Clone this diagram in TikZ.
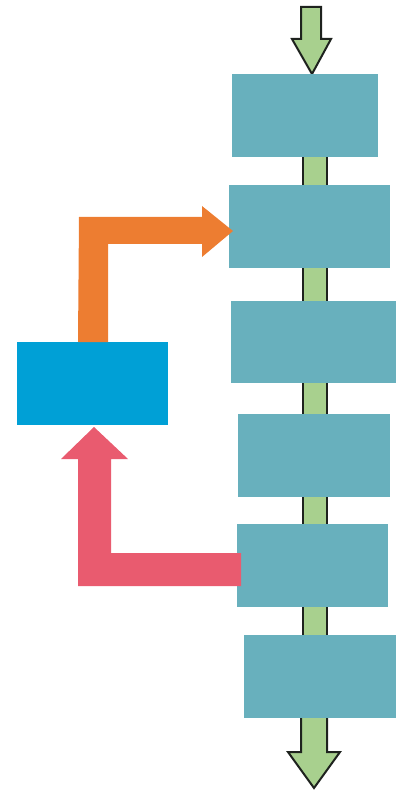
\documentclass[tikz,border=0pt]{standalone}
\usetikzlibrary{backgrounds}
\definecolor{stagefill}{RGB}{104,176,189}
\definecolor{ctrlfill}{RGB}{0,160,214}
\definecolor{feedfwd}{RGB}{237,125,49}
\definecolor{feedback}{RGB}{233,91,111}
\definecolor{flowfill}{RGB}{168,208,142}
\definecolor{flowline}{RGB}{30,34,30}
\tikzset{
  stagebox/.style={fill=stagefill, draw=none, inner sep=0pt, anchor=north west},
  ctrlbox/.style={fill=ctrlfill, draw=none, inner sep=0pt, anchor=north west},
  flowarrow/.style={fill=flowfill, draw=flowline, line width=2pt, line join=miter},
}
\begin{document}
\begin{tikzpicture}[x=1pt,y=-1pt]
\useasboundingbox (0,0) rectangle (401,791);

% pipeline stages
\node[stagebox, minimum width=146pt, minimum height=83pt] (s1) at (232,74) {};
\node[stagebox, minimum width=161pt, minimum height=83pt] (s2) at (229,185) {};
\node[stagebox, minimum width=165pt, minimum height=82pt] (s3) at (231,301) {};
\node[stagebox, minimum width=152pt, minimum height=83pt] (s4) at (238,414) {};
\node[stagebox, minimum width=151pt, minimum height=83pt] (s5) at (237,524) {};
\node[stagebox, minimum width=152pt, minimum height=83pt] (s6) at (244,635) {};

% controller block
\node[ctrlbox, minimum width=151pt, minimum height=83pt] (ctl) at (17,342) {};

\begin{scope}[on background layer]
  % input arrow into the first stage
  \draw[flowarrow] (301,7) -- (321,7) -- (321,39) -- (331,39)
        -- (s1.north -| 312,0) -- (292,39) -- (301,39) -- cycle;
  % flow between the stages
  \draw[flowarrow] (302.5,150) rectangle (326.5,640);
  % output arrow from the last stage
  \draw[flowarrow] (301,712) -- (301,752) -- (288,752) -- (314,788)
        -- (340,752) -- (327,752) -- (327,712);
\end{scope}

% feed-forward from the controller to stage 2
\fill[feedfwd] (ctl.north -| 78,0) -- (79,217) -- (202,217) -- (202,206)
      -- (233,231) -- (202,257) -- (202,244) -- (108,244)
      -- (ctl.north -| 108,0) -- cycle;

% feedback from stage 5 to the controller
\fill[feedback] (78,586) -- (78,459) -- (61,459) -- (94,427) -- (128,459)
      -- (111,459) -- (111,553) -- (241,553) -- (241,586) -- cycle;
\end{tikzpicture}
\end{document}
